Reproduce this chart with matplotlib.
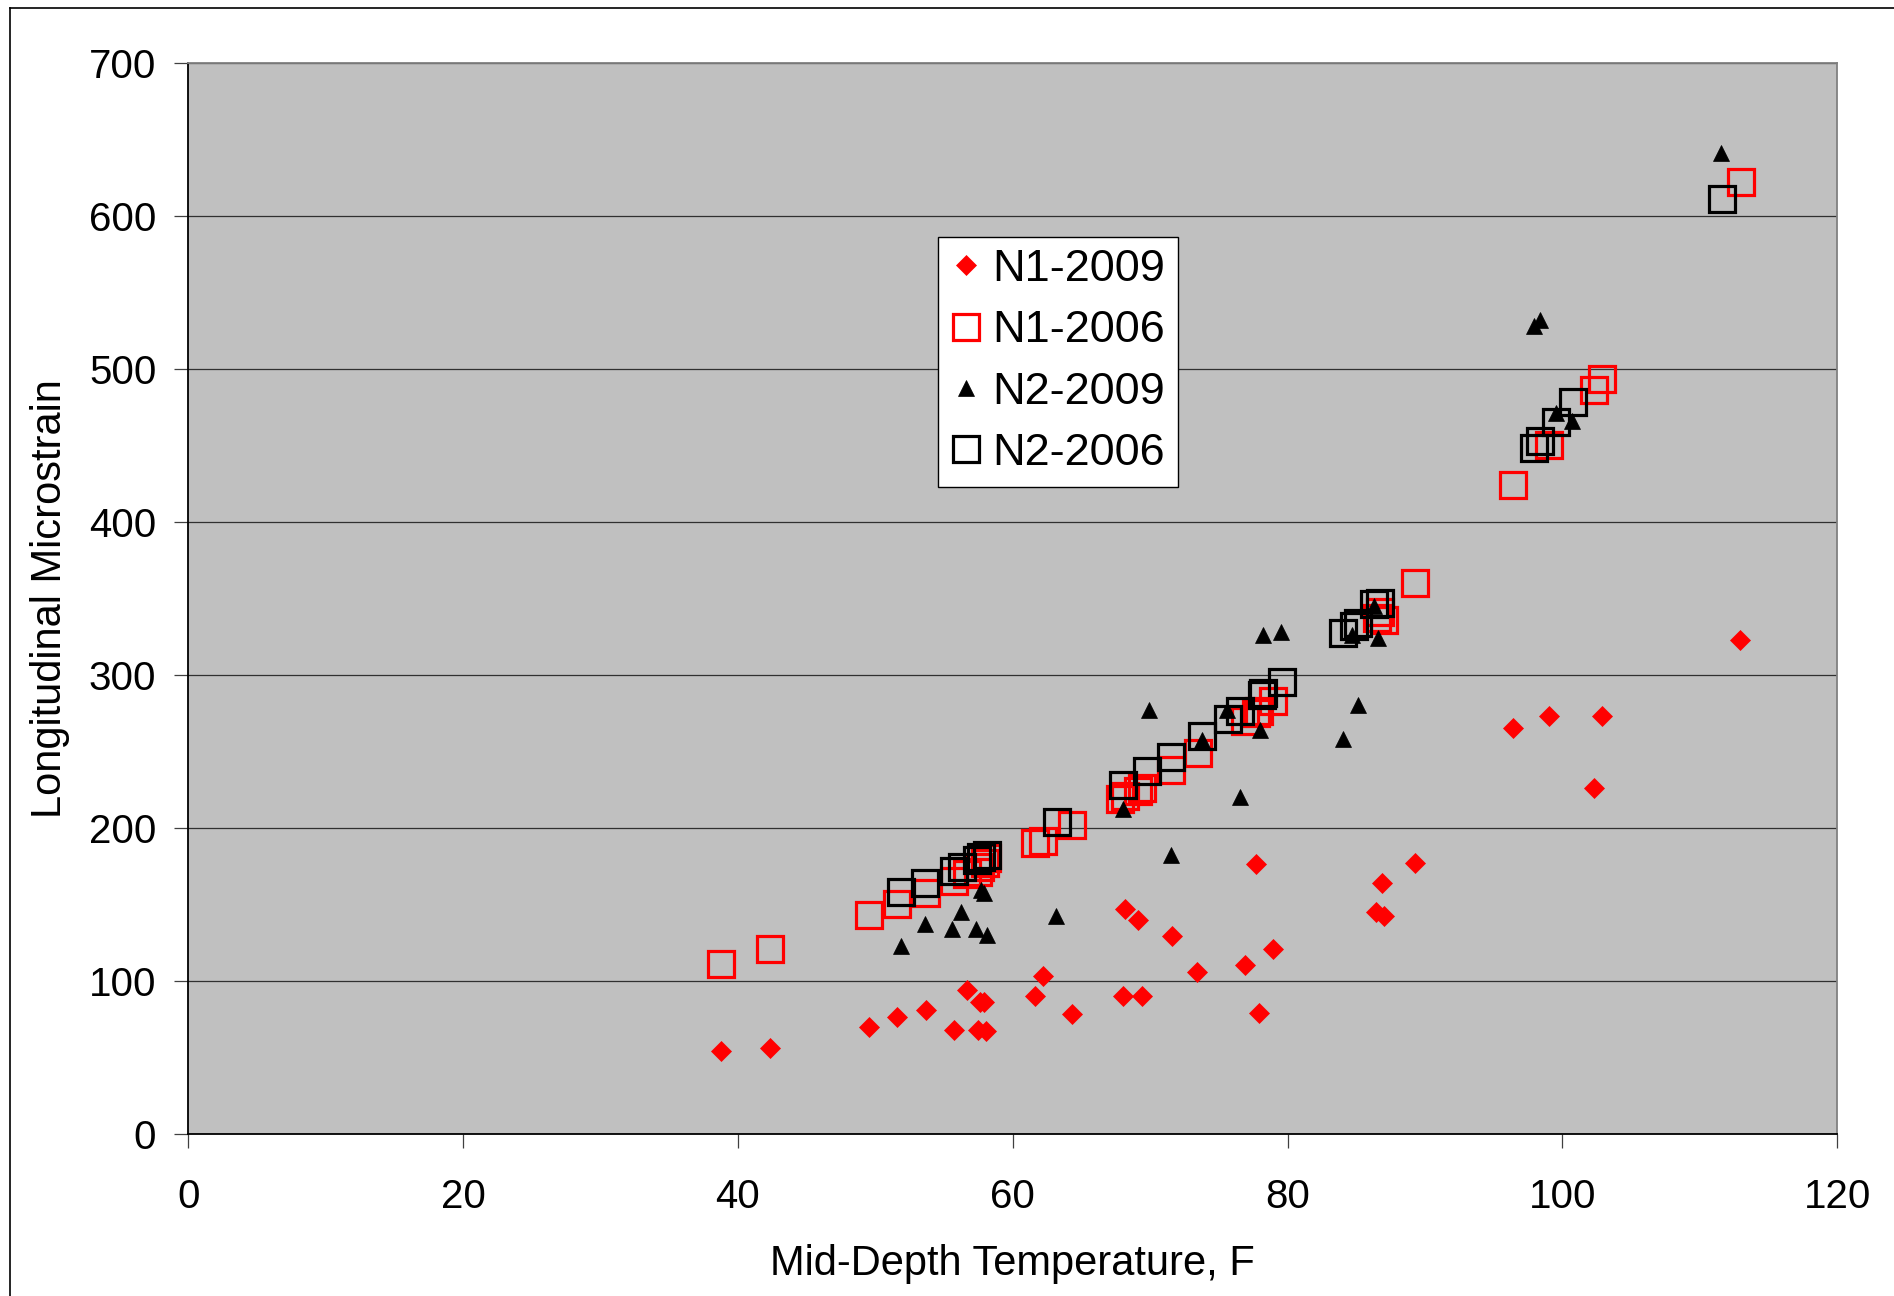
import matplotlib
matplotlib.use("Agg")
import matplotlib.pyplot as plt
from matplotlib.lines import Line2D

plt.rcParams["font.family"] = ["Liberation Sans", "DejaVu Sans"]

# ── data ──────────────────────────────────────────────────────────────────────
n1_2009_x = [38.8, 42.3, 49.5, 51.6, 53.7, 55.7, 56.65, 57.5, 57.6, 57.9, 58.06,
             61.6, 62.2, 64.3, 68.0, 68.15, 69.14, 69.4, 71.6, 73.4, 76.9, 77.7,
             77.9, 78.9, 86.4, 86.9, 87.0, 89.3, 96.4, 99.0, 102.3, 102.9, 112.9]
n1_2009_y = [54, 56, 70, 76, 81, 68, 94, 68, 86, 86, 67,
             90, 103, 78, 90, 147, 140, 90, 129, 106, 110, 176,
             79, 121, 145, 164, 142, 177, 265, 273, 226, 273, 323]

n1_2006_x = [38.8, 42.3, 49.5, 51.6, 53.7, 55.7, 56.65, 57.5, 57.6, 58.0, 58.1,
             61.6, 62.2, 64.3, 67.8, 68.2, 69.1, 69.4, 71.5, 73.5, 76.9, 77.7,
             77.9, 78.9, 86.5, 86.7, 87.0, 89.3, 96.4, 99.0, 102.3, 102.9, 113.0]
n1_2006_y = [111, 121, 143, 150, 157, 165, 170, 171, 174, 177, 180,
             190, 191, 202, 219, 221, 224, 226, 238, 249, 270, 275,
             276, 283, 337, 341, 336, 360, 424, 450, 486, 493, 622]

n2_2009_x = [51.9, 53.6, 55.6, 56.2, 57.3, 57.7, 57.9, 58.1, 63.15, 68.0,
             69.9, 71.5, 73.75, 75.6, 76.5, 78.0, 78.2, 79.5, 84.0, 84.7,
             85.1, 86.25, 86.6, 97.9, 98.4, 99.5, 100.7, 111.55]
n2_2009_y = [123, 137, 134, 145, 134, 159, 157, 130, 142, 212,
             277, 182, 257, 277, 220, 264, 326, 328, 258, 326,
             280, 345, 324, 528, 532, 471, 466, 641]

n2_2006_x = [51.9, 53.6, 55.7, 56.3, 57.4, 57.7, 58.1, 63.2, 68.05, 69.8,
             71.5, 73.8, 75.65, 76.5, 78.1, 78.2, 79.6, 84.0, 84.8, 85.1,
             86.3, 86.7, 97.9, 98.4, 99.5, 100.8, 111.6]
n2_2006_y = [158, 164, 172, 174, 179, 181, 182, 204, 228, 237,
             246, 260, 271, 276, 287, 288, 295, 327, 332, 334,
             346, 347, 448, 453, 465, 478, 611]

x_ticks = [0, 20, 40, 60, 80, 100, 120]
y_ticks = [0, 100, 200, 300, 400, 500, 600, 700]

# ── figure ────────────────────────────────────────────────────────────────────
W, H = 1894, 1296
fig = plt.figure(figsize=(W / 100, H / 100), dpi=100)
ax = fig.add_axes([188.3 / W, 1 - 1133.7 / H, (1837.3 - 188.3) / W, (1133.7 - 62.7) / H])
ax.set_facecolor("#C0C0C0")

ax.plot(n1_2009_x, n1_2009_y, ls="none", marker="D", ms=10.5, mfc="#FF0000",
        mec="#FF0000", mew=0.5, label="N1-2009")
ax.plot(n1_2006_x, n1_2006_y, ls="none", marker="s", ms=18.5, mfc="none",
        mec="#FF0000", mew=2.3, label="N1-2006")
ax.plot(n2_2009_x, n2_2009_y, ls="none", marker="^", ms=12, mfc="black",
        mec="black", mew=0.5, label="N2-2009")
ax.plot(n2_2006_x, n2_2006_y, ls="none", marker="s", ms=18.5, mfc="none",
        mec="black", mew=2.3, label="N2-2006")

ax.set_xlim(0, 120)
ax.set_ylim(0, 700)
ax.set_xticks(x_ticks)
ax.set_yticks(y_ticks)
ax.yaxis.grid(True, color="#303030", lw=0.9)
ax.set_axisbelow(True)

for side in ("left", "bottom"):
    ax.spines[side].set_color("black")
    ax.spines[side].set_linewidth(1.3)
for side in ("top", "right"):
    ax.spines[side].set_color("#808080")
    ax.spines[side].set_linewidth(1.3)

ax.tick_params(axis="both", direction="out", length=10, width=0.9,
               labelsize=29, color="#404040")
ax.tick_params(axis="y", pad=13)
ax.tick_params(axis="x", pad=22)

ax.set_xlabel("Mid-Depth Temperature, F", fontsize=30, labelpad=20)
ax.set_ylabel("Longitudinal Microstrain", fontsize=30, labelpad=13.5)

leg = ax.legend(loc="upper left", bbox_to_anchor=(938.3 / W, 1 - 236.5 / H),
                bbox_transform=fig.transFigure, fontsize=32.5, frameon=True,
                fancybox=False, framealpha=1, edgecolor="black",
                borderpad=0.28, handlelength=0.67, handletextpad=0.24,
                labelspacing=0.45, borderaxespad=0)
leg.get_frame().set_linewidth(1.0)

# outer chart border (left and top edges visible)
fig.add_artist(Line2D([10 / W, 10 / W], [0, 1 - 8 / H], transform=fig.transFigure,
                      color="black", lw=1.2))
fig.add_artist(Line2D([10 / W, 1], [1 - 8 / H, 1 - 8 / H], transform=fig.transFigure,
                      color="black", lw=1.2))

fig.savefig("out.png", dpi=100)
